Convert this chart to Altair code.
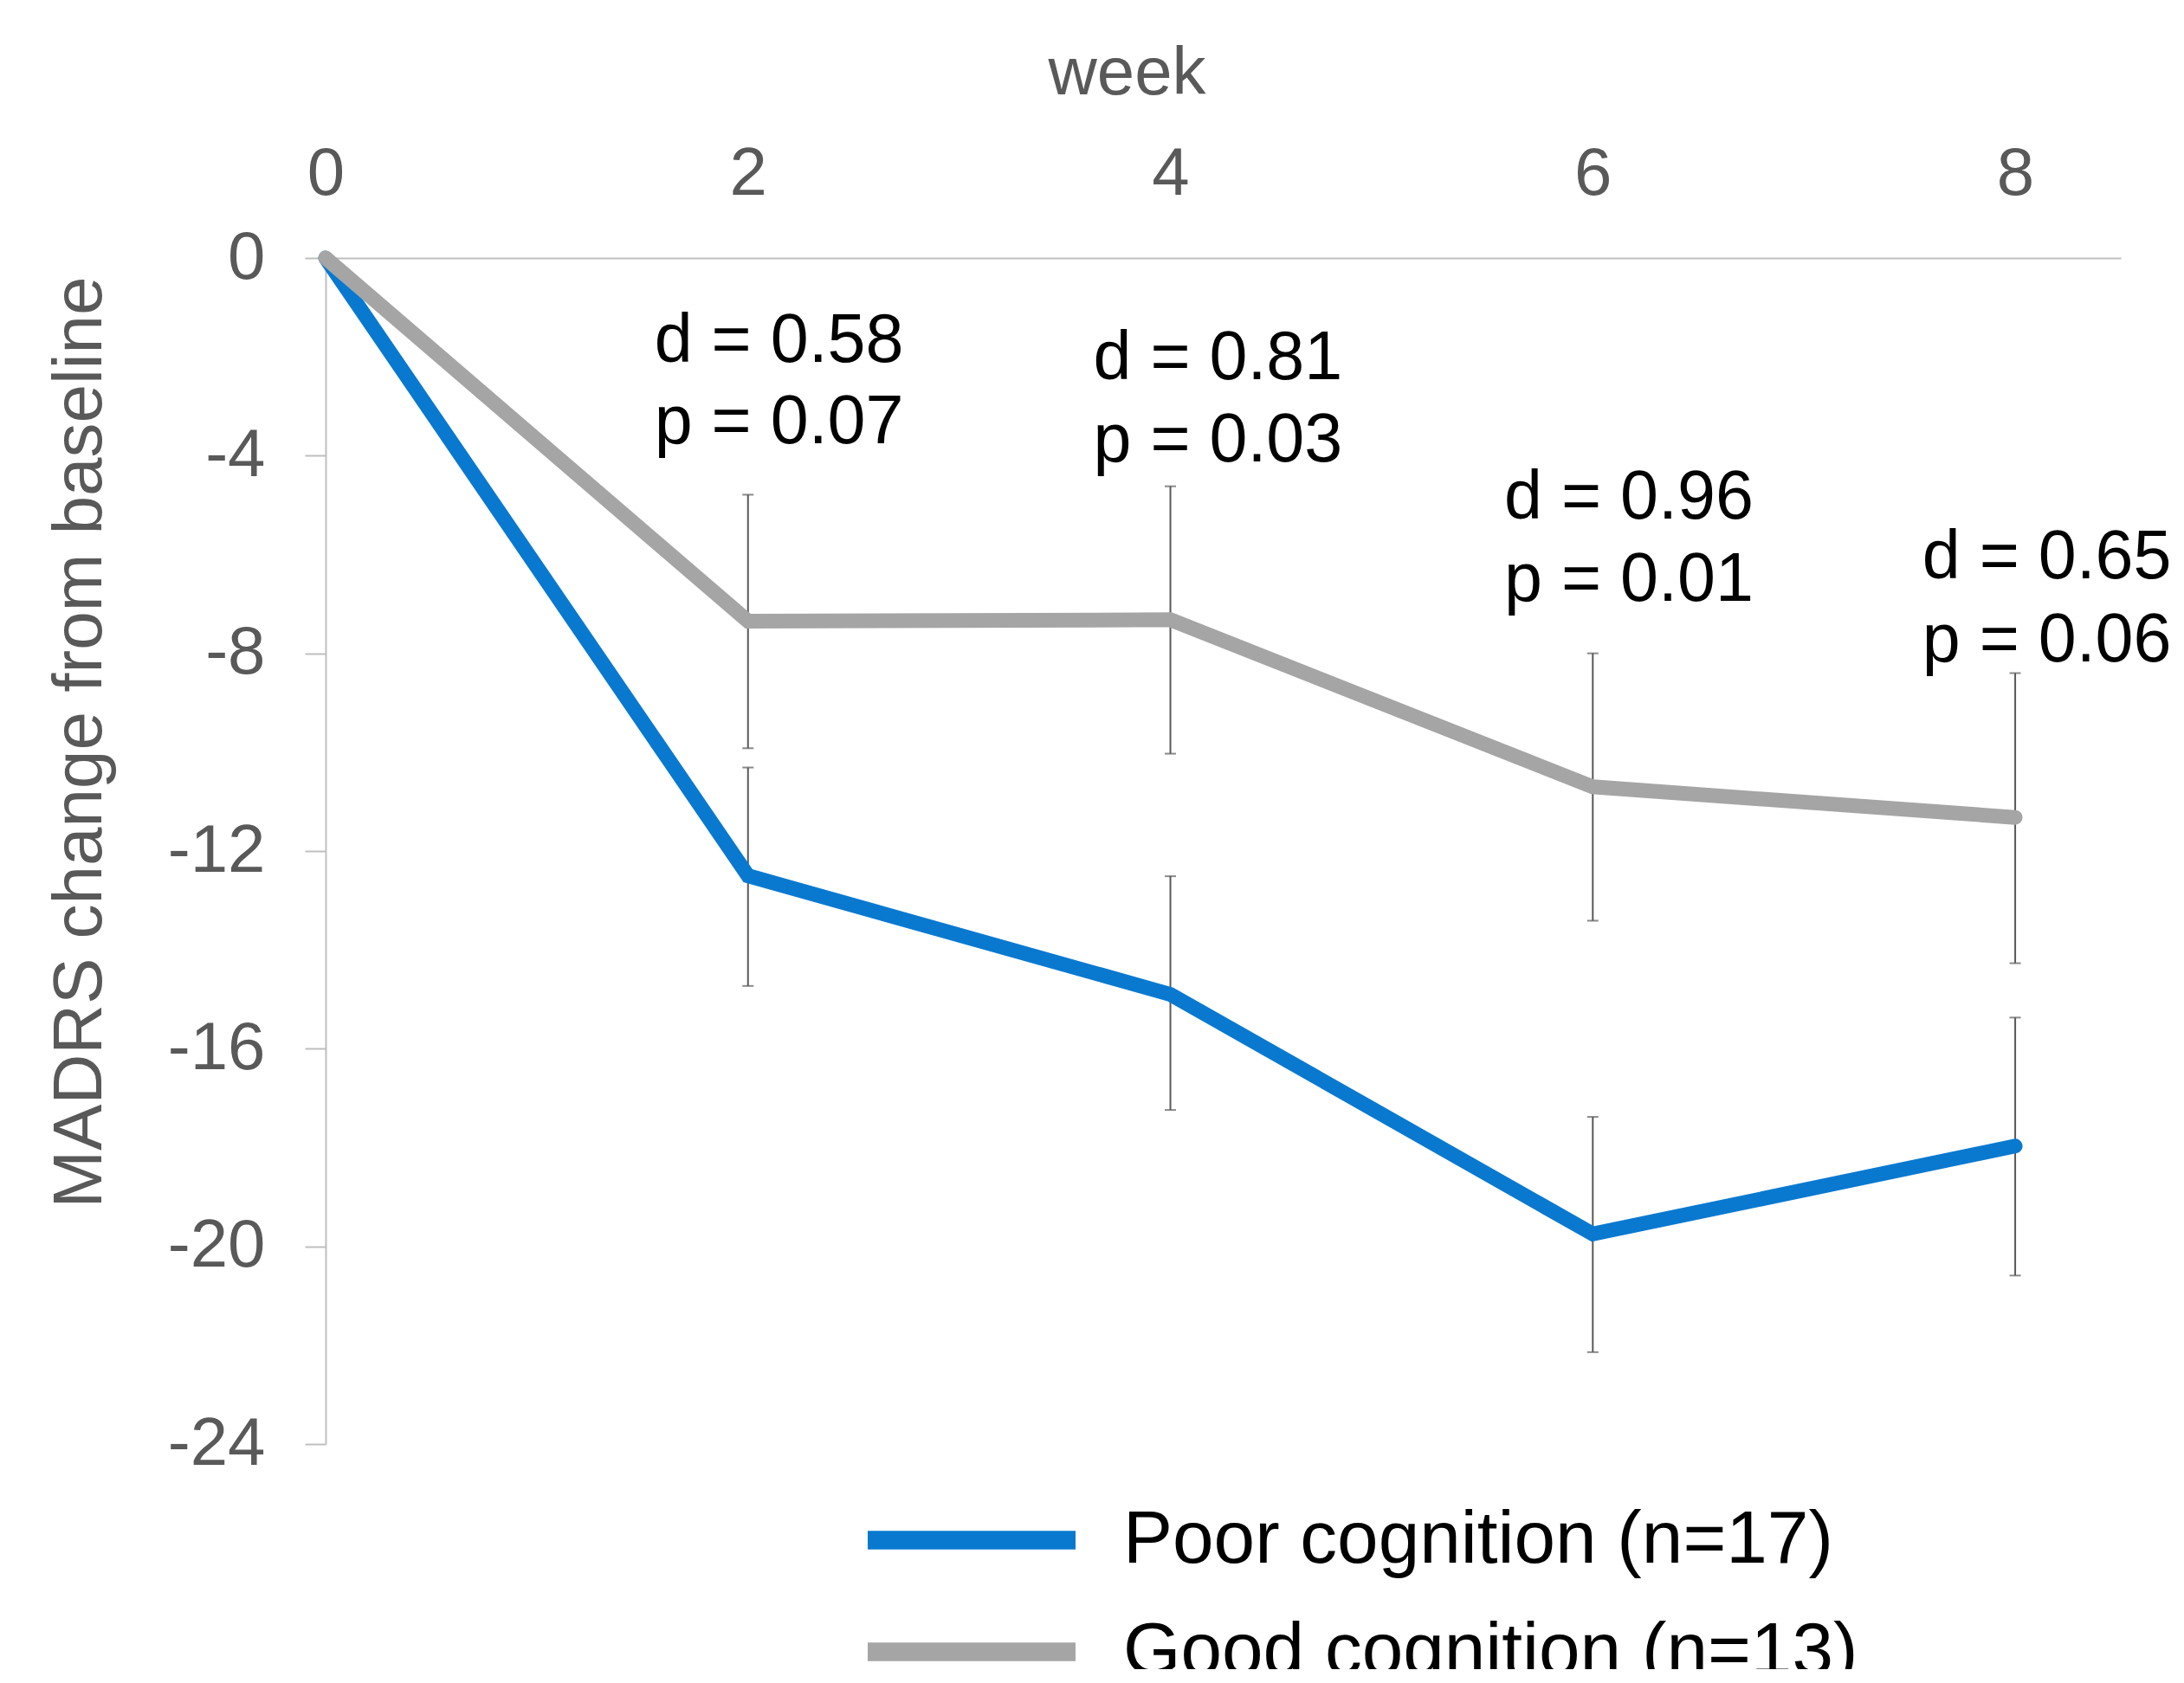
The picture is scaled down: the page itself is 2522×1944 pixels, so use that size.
import altair as alt
import pandas as pd

weeks = [0, 2, 4, 6, 8]
groups = ["Poor cognition (n=17)", "Good cognition (n=13)"]

poor_mean = [0, -12.50, -14.90, -19.75, -17.97]
poor_lo = [None, -14.73, -17.24, -22.14, -20.59]
poor_hi = [None, -10.31, -12.51, -17.38, -15.37]

good_mean = [0, -7.35, -7.32, -10.70, -11.32]
good_lo = [None, -9.92, -10.03, -13.41, -14.27]
good_hi = [None, -4.79, -4.62, -8.00, -8.40]

ann_x = [1.557, 3.635, 5.581, 7.56]
ann_d = ["d = 0.58", "d = 0.81", "d = 0.96", "d = 0.65"]
ann_p = ["p = 0.07", "p = 0.03", "p = 0.01", "p = 0.06"]
ann_y_d = [-1.69, -2.03, -4.85, -6.06]
ann_y_p = [-3.32, -3.69, -6.51, -7.75]

y_ticks = [0, -4, -8, -12, -16, -20, -24]
x_ticks = [0, 2, 4, 6, 8]

FONT = "Liberation Sans"
BLUE = "#0979D0"
GRAY = "#A5A5A5"

rows = []
for g, m, lo, hi in [(groups[0], poor_mean, poor_lo, poor_hi),
                     (groups[1], good_mean, good_lo, good_hi)]:
    for w, mv, l, h in zip(weeks, m, lo, hi):
        rows.append({"week": w, "group": g, "mean": mv, "lo": l, "hi": h})
df = pd.DataFrame(rows)
err = df.dropna(subset=["lo"])

ann = pd.DataFrame({"x": ann_x, "d": ann_d, "p": ann_p, "yd": ann_y_d, "yp": ann_y_p})

xs = alt.Scale(domain=[0, 8.5], nice=False, zero=False)
ys = alt.Scale(domain=[-24, 0], nice=False)

x_axis = alt.Axis(
    orient="top", values=x_ticks, grid=False, ticks=False, tickSize=0,
    domainColor="#BFBFBF", domainWidth=2,
    labelFont=FONT, labelFontSize=78, labelColor="#595959",
    labelPadding=74, labelBaseline="alphabetic", labelFlush=False,
    labelExpr="format(datum.value, 'd')", labelLimit=1000,
    title="week", titleFont=FONT, titleFontSize=78, titleColor="#595959",
    titleFontWeight="normal", titleX=925, titleY=-190,
    titleBaseline="alphabetic", titleAlign="center",
)
y_axis = alt.Axis(
    orient="left", values=y_ticks, grid=False,
    domainColor="#BFBFBF", domainWidth=2,
    tickColor="#BFBFBF", tickSize=24, tickWidth=2,
    labelFont=FONT, labelFontSize=78, labelColor="#595959",
    labelPadding=46, labelBaseline="middle", labelFlush=False,
    labelExpr="datum.value == 0 ? '0' : '-' + format(abs(datum.value), 'd')",
    labelLimit=1000,
    title="MADRS change from baseline", titleFont=FONT, titleFontSize=80,
    titleColor="#595959", titleFontWeight="normal", titleAngle=270,
    titleX=-284, titleY=559, titleAlign="center", titleBaseline="middle",
)

base = alt.Chart(df)

rules = alt.Chart(err).mark_rule(color="#595959", strokeWidth=2).encode(
    x=alt.X("week:Q", scale=xs, axis=x_axis),
    y=alt.Y("lo:Q", scale=ys, axis=y_axis),
    y2="hi:Q",
)
cap_lo = alt.Chart(err).mark_tick(color="#595959", orient="horizontal", size=13, thickness=2).encode(
    x=alt.X("week:Q", scale=xs), y=alt.Y("lo:Q", scale=ys)
)
cap_hi = alt.Chart(err).mark_tick(color="#595959", orient="horizontal", size=13, thickness=2).encode(
    x=alt.X("week:Q", scale=xs), y=alt.Y("hi:Q", scale=ys)
)

lines = base.mark_line(strokeWidth=17, strokeCap="round").encode(
    x=alt.X("week:Q", scale=xs),
    y=alt.Y("mean:Q", scale=ys),
    color=alt.Color(
        "group:N",
        scale=alt.Scale(domain=groups, range=[BLUE, GRAY]),
        sort=groups,
        legend=alt.Legend(
            orient="none", legendX=615, legendY=1431, title=None,
            labelFont=FONT, labelFontSize=85.5, labelColor="#000000",
            labelLimit=2000,
            symbolType="stroke", symbolSize=240 * 240, symbolStrokeWidth=21.5,
            labelOffset=44, clipHeight=100, rowPadding=29, padding=0,
            symbolOpacity=1,
        ),
    ),
    order=alt.Order("week:Q"),
)

txt_d = alt.Chart(ann).mark_text(font=FONT, fontSize=79, color="#000000",
                                 align="left", baseline="middle").encode(
    x=alt.X("x:Q", scale=xs), y=alt.Y("yd:Q", scale=ys), text="d:N"
)
txt_p = alt.Chart(ann).mark_text(font=FONT, fontSize=79, color="#000000",
                                 align="left", baseline="middle").encode(
    x=alt.X("x:Q", scale=xs), y=alt.Y("yp:Q", scale=ys), text="p:N"
)

chart = alt.layer(rules, cap_lo, cap_hi, lines, txt_d, txt_p).properties(
    width=2073, height=1370,
    background="white",
    autosize=alt.AutoSizeParams(type="none"),
    padding={"left": 368, "top": 290, "right": 57, "bottom": 260},
).configure_view(stroke=None)

chart.save("out.html", embed_options={"renderer": "svg", "actions": False})
